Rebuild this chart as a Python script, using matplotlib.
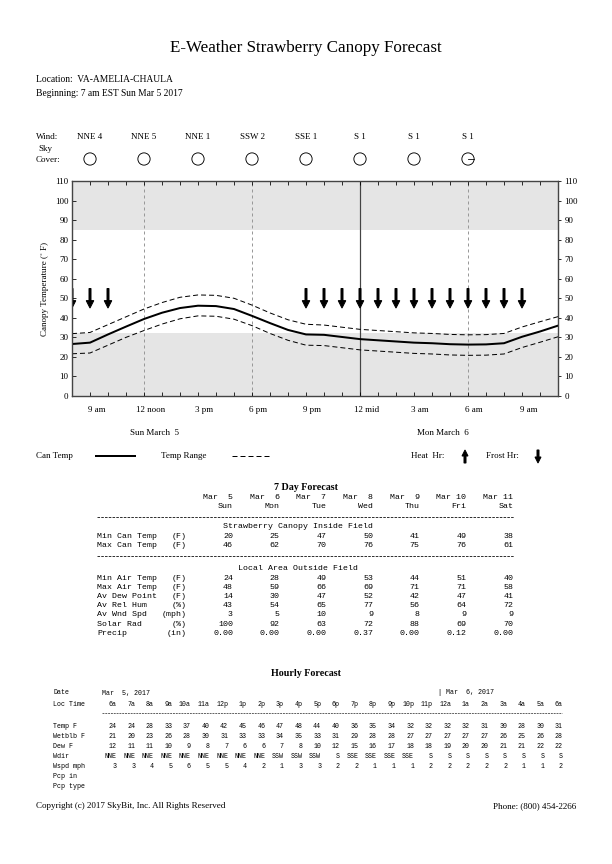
import matplotlib
matplotlib.use("Agg")
import matplotlib.pyplot as plt
from matplotlib.transforms import blended_transform_factory
from matplotlib.patches import FancyArrow
from matplotlib.lines import Line2D

# ---- chart data (hours counted from midnight Sun, 8 = 8 am Sun) ----
hours = list(range(8, 36))
can_temp = [26.6, 27.3, 31.5, 35.5, 39.4, 42.6, 45.0, 46.2, 46.0, 44.5, 41.0, 37.3,
            33.8, 31.5, 31.3, 30.2, 29.1, 28.5, 27.9, 27.3, 27.0, 26.5, 26.3, 26.4,
            27.0, 30.3, 33.0, 36.0]
range_hi = [31.9, 32.5, 36.5, 40.5, 44.5, 47.8, 50.5, 51.7, 51.5, 50.0, 46.5, 42.5,
            39.0, 36.7, 36.3, 35.2, 34.1, 33.5, 32.9, 32.3, 32.0, 31.5, 31.3, 31.4,
            32.0, 35.3, 38.0, 40.6]
range_lo = [21.6, 22.0, 26.0, 30.0, 33.5, 36.8, 39.5, 41.0, 40.8, 39.3, 36.0, 32.0,
            28.5, 26.0, 25.8, 24.7, 23.6, 23.0, 22.4, 21.8, 21.5, 21.0, 20.8, 20.9,
            21.5, 24.8, 27.5, 30.3]
frost_hours = [8, 9, 10, 21, 22, 23, 24, 25, 26, 27, 28, 29, 30, 31, 32, 33]
heat_hours = []
cold_band = 32
hot_band = 85

wind_hours = [9, 12, 15, 18, 21, 24, 27, 30]
wind_labels = ["NNE 4", "NNE 5", "NNE 1", "SSW 2", "SSE 1", "S 1", "S 1", "S 1"]
sky_cover = [0, 0, 0, 0, 0, 0, 0, 1]

time_ticks = [9, 12, 15, 18, 21, 24, 27, 30, 33]
time_labels = ["9 am", "12 noon", "3 pm", "6 pm", "9 pm", "12 mid", "3 am", "6 am", "9 am"]

# ---- 7 day table ----
day_dates = ["Mar  5", "Mar  6", "Mar  7", "Mar  8", "Mar  9", "Mar 10", "Mar 11"]
day_names = ["Sun", "Mon", "Tue", "Wed", "Thu", "Fri", "Sat"]
canopy_rows = [("Min Can Temp", "(F)", ["20", "25", "47", "50", "41", "49", "38"]),
               ("Max Can Temp", "(F)", ["46", "62", "70", "76", "75", "76", "61"])]
local_rows = [("Min Air Temp", "(F)", ["24", "28", "49", "53", "44", "51", "40"]),
              ("Max Air Temp", "(F)", ["48", "59", "66", "69", "71", "71", "58"]),
              ("Av Dew Point", "(F)", ["14", "30", "47", "52", "42", "47", "41"]),
              ("Av Rel Hum", "(%)", ["43", "54", "65", "77", "56", "64", "72"]),
              ("Av Wnd Spd", "(mph)", ["3", "5", "10", "9", "8", "9", "9"]),
              ("Solar Rad", "(%)", ["100", "92", "63", "72", "88", "69", "70"]),
              ("Precip", "(in)", ["0.00", "0.00", "0.00", "0.37", "0.00", "0.12", "0.00"])]

# ---- hourly table ----
loc_times = ["6a", "7a", "8a", "9a", "10a", "11a", "12p", "1p", "2p", "3p", "4p", "5p",
             "6p", "7p", "8p", "9p", "10p", "11p", "12a", "1a", "2a", "3a", "4a", "5a", "6a"]
temp_f = [24, 24, 28, 33, 37, 40, 42, 45, 46, 47, 48, 44, 40, 36, 35, 34, 32, 32, 32, 32,
          31, 30, 28, 30, 31]
wetblb_f = [21, 20, 23, 26, 28, 30, 31, 33, 33, 34, 35, 33, 31, 29, 28, 28, 27, 27, 27, 27,
            27, 26, 25, 26, 28]
dew_f = [12, 11, 11, 10, 9, 8, 7, 6, 6, 7, 8, 10, 12, 15, 16, 17, 18, 18, 19, 20, 20, 21,
         21, 22, 22]
wdir = ["NNE"] * 9 + ["SSW"] * 3 + ["S"] + ["SSE"] * 4 + ["S"] * 8
wspd = [3, 3, 4, 5, 6, 5, 5, 4, 2, 1, 3, 3, 2, 2, 1, 1, 1, 2, 2, 2, 2, 2, 1, 1, 2]

W, H = 612, 864
serif = "Liberation Serif"
mono = "Liberation Mono"


def fx(x):
    return x / W


def fy(y):
    return 1 - y / H


fig = plt.figure(figsize=(W / 72, H / 72), dpi=72)
fig.patch.set_facecolor("white")

fig.text(fx(306), fy(48), "E-Weather Strawberry Canopy Forecast", ha="center", va="center",
         family=serif, fontsize=17)
fig.text(fx(36), fy(79), "Location:  VA-AMELIA-CHAULA", va="center", family=serif, fontsize=9.5)
fig.text(fx(36), fy(94), "Beginning: 7 am EST Sun Mar 5 2017", va="center", family=serif, fontsize=9.5)

# main plot
ax = fig.add_axes([fx(72), fy(396), (558 - 72) / W, (396 - 181) / H])
ax.set_xlim(8, 35)
ax.set_ylim(0, 110)
ax.axhspan(0, cold_band, color="#e5e5e5", lw=0, zorder=0)
ax.axhspan(hot_band, 110, color="#e5e5e5", lw=0, zorder=0)
for h in [12, 18, 30]:
    ax.axvline(h, color="#999999", lw=1, ls=(0, (3, 3)), zorder=1)
ax.axvline(24, color="#444444", lw=1.2, zorder=1)

ax.plot(hours, range_hi, color="black", lw=1, ls=(0, (5, 3)), zorder=3)
ax.plot(hours, range_lo, color="black", lw=1, ls=(0, (5, 3)), zorder=3)
ax.plot(hours, can_temp, color="black", lw=2, zorder=4)

for h in frost_hours:
    ax.arrow(h, 55, 0, -10, width=0.11, head_width=0.42, head_length=3.8,
             length_includes_head=True, color="black", zorder=5)
for h in heat_hours:
    ax.arrow(h, 45, 0, 10, width=0.11, head_width=0.42, head_length=3.8,
             length_includes_head=True, color="black", zorder=5)

ax.set_xticks(hours)
ax.tick_params(axis="x", direction="in", top=True, length=4, labelbottom=False, width=0.8)
ax.set_yticks(range(0, 111, 10))
ax.tick_params(axis="y", direction="in", length=4, labelsize=9, width=0.8)
for lab in ax.get_yticklabels():
    lab.set_family(serif)
ax2 = ax.twinx()
ax2.set_ylim(0, 110)
ax2.set_yticks(range(0, 111, 10))
ax2.tick_params(axis="y", direction="out", length=3, labelsize=9, width=0.8)
for lab in ax2.get_yticklabels():
    lab.set_family(serif)
for a in (ax, ax2):
    for s in a.spines.values():
        s.set_color("#444444")
        s.set_linewidth(1.2)

ax.set_ylabel("Canopy Temperature (\u02da F)", family=serif, fontsize=9, labelpad=6)

xlab_tr = blended_transform_factory(ax.transData, fig.transFigure)
for h, lab in zip(time_ticks, time_labels):
    ax.text(h + 0.35, fy(410), lab, transform=xlab_tr, ha="center", va="center",
            family=serif, fontsize=9)
ax.text(12.6, fy(433), "Sun March  5", transform=xlab_tr, ha="center", va="center",
        family=serif, fontsize=9)
ax.text(28.6, fy(433), "Mon March  6", transform=xlab_tr, ha="center", va="center",
        family=serif, fontsize=9)

# wind and sky cover row
fig.text(fx(36), fy(137), "Wind:", va="center", family=serif, fontsize=9)
fig.text(fx(45), fy(149), "Sky", ha="center", va="center", family=serif, fontsize=9)
fig.text(fx(36), fy(160), "Cover:", va="center", family=serif, fontsize=9)
for h, lab, cov in zip(wind_hours, wind_labels, sky_cover):
    ax.text(h, fy(137), lab, transform=xlab_tr, ha="center", va="center",
            family=serif, fontsize=9)
    if cov:
        ax.plot([h, h + 0.33], [fy(159), fy(159)], transform=xlab_tr, color="black",
                lw=0.8, clip_on=False)
ax.scatter(wind_hours, [fy(159)] * len(wind_hours), transform=xlab_tr, s=150,
           facecolors="none", edgecolors="black", linewidths=0.9, clip_on=False)

# legend row
fig.text(fx(36), fy(456), "Can Temp", va="center", family=serif, fontsize=9)
fig.add_artist(Line2D([fx(96), fx(135)], [fy(456), fy(456)], color="black", lw=2))
fig.text(fx(161), fy(456), "Temp Range", va="center", family=serif, fontsize=9)
fig.add_artist(Line2D([fx(232), fx(270)], [fy(456), fy(456)], color="black", lw=1,
                      ls=(0, (5, 3))))
fig.text(fx(411), fy(456), "Heat  Hr:", va="center", family=serif, fontsize=9)
fig.add_artist(FancyArrow(465 / 72, (H - 463) / 72, 0, 13 / 72, width=2 / 72,
                          head_width=6 / 72, head_length=6 / 72, length_includes_head=True,
                          color="black", transform=fig.dpi_scale_trans))
fig.text(fx(486), fy(456), "Frost Hr:", va="center", family=serif, fontsize=9)
fig.add_artist(FancyArrow(538 / 72, (H - 450) / 72, 0, -13 / 72, width=2 / 72,
                          head_width=6 / 72, head_length=6 / 72, length_includes_head=True,
                          color="black", transform=fig.dpi_scale_trans))

# 7 day forecast table
tfs = 8.2
tw = "normal"
fig.text(fx(306), fy(488), "7 Day Forecast", ha="center", va="center", family=serif,
         fontsize=10, fontweight="bold")
col_right = [233 + i * 46.7 for i in range(7)]
for x, d, n in zip(col_right, day_dates, day_names):
    fig.text(fx(x), fy(497.5), d, ha="right", va="center", family=mono, fontsize=tfs,
             fontweight=tw)
    fig.text(fx(x), fy(506.5), n, ha="right", va="center", family=mono, fontsize=tfs,
             fontweight=tw)


def dash_rule(x0, x1, y, lw=0.8):
    fig.add_artist(Line2D([fx(x0), fx(x1)], [fy(y), fy(y)], color="black", lw=lw,
                          ls=(0, (3.2, 1.5))))


dash_rule(97, 514, 517)
fig.text(fx(298), fy(527), "Strawberry Canopy Inside Field", ha="center", va="center",
         family=mono, fontsize=tfs, fontweight=tw)


def table_rows(rows, y0):
    for k, (name, unit, vals) in enumerate(rows):
        y = y0 + k * 9.2
        fig.text(fx(97), fy(y), name, va="center", family=mono, fontsize=tfs, fontweight=tw)
        fig.text(fx(187), fy(y), unit, ha="right", va="center", family=mono, fontsize=tfs,
                 fontweight=tw)
        for x, v in zip(col_right, vals):
            fig.text(fx(x), fy(y), v, ha="right", va="center", family=mono, fontsize=tfs,
                     fontweight=tw)


table_rows(canopy_rows, 536)
dash_rule(97, 514, 555.5)
fig.text(fx(298), fy(568), "Local Area Outside Field", ha="center", va="center",
         family=mono, fontsize=tfs, fontweight=tw)
table_rows(local_rows, 578)

# hourly forecast table
hfs = 6.6
fig.text(fx(306), fy(673), "Hourly Forecast", ha="center", va="center", family=serif,
         fontsize=10, fontweight="bold")
hcol = [116.5 + i * 18.6 for i in range(len(loc_times))]
fig.text(fx(53), fy(693), "Date", va="center", family=mono, fontsize=hfs, fontweight=tw)
fig.text(fx(102), fy(693), "Mar  5, 2017", va="center", family=mono, fontsize=hfs,
         fontweight=tw)
fig.text(fx(438), fy(693), "| Mar  6, 2017", va="center", family=mono, fontsize=hfs,
         fontweight=tw)
hourly_rows = [("Loc Time", loc_times, 704.5),
               ("Temp F", temp_f, 726),
               ("Wetblb F", wetblb_f, 736),
               ("Dew F", dew_f, 746),
               ("Wdir", wdir, 756),
               ("Wspd mph", wspd, 766)]
for name, vals, y in hourly_rows:
    fig.text(fx(53), fy(y), name, va="center", family=mono, fontsize=hfs, fontweight=tw)
    for x, v in zip(hcol, vals):
        fig.text(fx(x), fy(y), str(v), ha="right", va="center", family=mono, fontsize=hfs,
                 fontweight=tw)
dash_rule(102, 562, 713, lw=0.6)
fig.text(fx(53), fy(776), "Pcp in", va="center", family=mono, fontsize=hfs, fontweight=tw)
fig.text(fx(53), fy(786), "Pcp type", va="center", family=mono, fontsize=hfs, fontweight=tw)

fig.text(fx(36), fy(806), "Copyright (c) 2017 SkyBit, Inc. All Rights Reserved", va="center",
         family=serif, fontsize=9)
fig.text(fx(576), fy(806), "Phone: (800) 454-2266", ha="right", va="center", family=serif,
         fontsize=9)

fig.savefig("out.png", dpi=72)
